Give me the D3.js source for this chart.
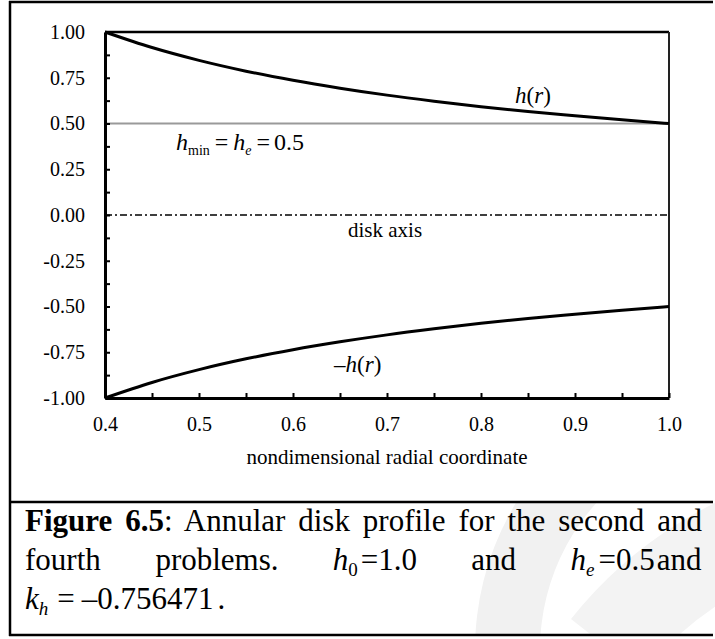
<!DOCTYPE html>
<html>
<head>
<meta charset="utf-8">
<script src="https://cdn.jsdelivr.net/npm/d3@7"></script>
<style>
  html, body { margin: 0; padding: 0; background: #fff; }
  svg { display: block; }
  text { font-family: "Liberation Serif", "Times New Roman", serif; fill: #000; }
</style>
</head>
<body>
<svg id="chart" width="715" height="639"></svg>
<script>
// ---------- data ----------
const radius   = [0.40, 0.45, 0.50, 0.55, 0.60, 0.65, 0.70, 0.75, 0.80, 0.85, 0.90, 0.95, 1.00];
const hUpper   = [1.000, 0.915, 0.845, 0.786, 0.736, 0.693, 0.655, 0.622, 0.592, 0.565, 0.542, 0.520, 0.500];
const hLower   = [-1.000, -0.915, -0.845, -0.786, -0.736, -0.693, -0.655, -0.622, -0.592, -0.565, -0.542, -0.520, -0.500];
const hMinEnds = [0.40, 1.00];
const hMinVal  = [0.5, 0.5];
const axisVal  = [0.0, 0.0];
const yTicks   = [-1.00, -0.75, -0.50, -0.25, 0.00, 0.25, 0.50, 0.75, 1.00];
const yMinor   = [-0.875, -0.625, -0.375, -0.125, 0.125, 0.375, 0.625, 0.875];
const xTicks   = [0.4, 0.5, 0.6, 0.7, 0.8, 0.9, 1.0];
const xMinor   = [0.45, 0.55, 0.65, 0.75, 0.85, 0.95];
const xLabel   = "nondimensional radial coordinate";

const svg = d3.select("#chart");
svg.append("rect").attr("width", 715).attr("height", 639).attr("fill", "#fff");

// faint watermark in the caption panel (clipped to it)
svg.append("clipPath").attr("id", "capclip")
  .append("rect").attr("x", 11).attr("y", 503).attr("width", 704).attr("height", 131);
const wm = svg.append("g").attr("clip-path", "url(#capclip)");
wm.append("path")
  .attr("d", d3.arc().innerRadius(220).outerRadius(285).startAngle(-1.7).endAngle(-0.7)())
  .attr("transform", "translate(760,650)")
  .attr("fill", "#f1f1f1");
wm.append("path")
  .attr("d", d3.arc().innerRadius(330).outerRadius(420).startAngle(-0.9).endAngle(-0.2)())
  .attr("transform", "translate(900,880)")
  .attr("fill", "#f3f3f3");

// scales
const x = d3.scaleLinear().domain([0.4, 1.0]).range([105, 669]);
const y = d3.scaleLinear().domain([-1, 1]).range([398, 32]);

// plot frame (top & right)
svg.append("line").attr("x1", 105).attr("x2", 669).attr("y1", 32).attr("y2", 32)
  .attr("stroke", "#000").attr("stroke-width", 2.5);
svg.append("line").attr("x1", 669).attr("x2", 669).attr("y1", 32).attr("y2", 398)
  .attr("stroke", "#222").attr("stroke-width", 2);

const line = d3.line().x(d => x(d[0])).y(d => y(d[1]));
// h_min line
svg.append("path")
  .attr("d", line(hMinEnds.map((r, i) => [r, hMinVal[i]])))
  .attr("stroke", "#9a9a9a").attr("stroke-width", 2).attr("fill", "none");
// disk axis
svg.append("path")
  .attr("d", line(hMinEnds.map((r, i) => [r, axisVal[i]])))
  .attr("stroke", "#000").attr("stroke-width", 1.6).attr("fill", "none")
  .attr("stroke-dasharray", "7,3,2,3");

// profiles
const curve = d3.line().x(d => x(d[0])).y(d => y(d[1])).curve(d3.curveMonotoneX);
svg.append("path")
  .attr("d", curve(radius.map((r, i) => [r, hUpper[i]])))
  .attr("stroke", "#000").attr("stroke-width", 3).attr("fill", "none");
svg.append("path")
  .attr("d", curve(radius.map((r, i) => [r, hLower[i]])))
  .attr("stroke", "#000").attr("stroke-width", 3).attr("fill", "none");

// axes
const yAxis = d3.axisLeft(y).tickValues(yTicks).tickFormat(d => d.toFixed(2))
  .tickSizeInner(-5).tickSizeOuter(0).tickPadding(20);
const gy = svg.append("g").attr("transform", "translate(105,0)").call(yAxis);
const gy2 = svg.append("g").attr("transform", "translate(105,0)")
  .call(d3.axisLeft(y).tickValues(yMinor).tickFormat("").tickSizeInner(-5).tickSizeOuter(0));
gy2.select(".domain").remove();

const xAxis = d3.axisBottom(x).tickValues(xTicks).tickFormat(d => d.toFixed(1))
  .tickSizeInner(-5).tickSizeOuter(0).tickPadding(19);
const gx = svg.append("g").attr("transform", "translate(0,398)").call(xAxis);
const gx2 = svg.append("g").attr("transform", "translate(0,398)")
  .call(d3.axisBottom(x).tickValues(xMinor).tickFormat("").tickSizeInner(-5).tickSizeOuter(0));
gx2.select(".domain").remove();

[gy, gy2, gx, gx2].forEach(g => {
  g.attr("font-family", null);
  g.selectAll(".tick line").attr("stroke", "#000").attr("stroke-width", 2);
  g.selectAll(".tick text").attr("font-size", 20).attr("fill", "#000");
});
gy.select(".domain").attr("stroke", "#000").attr("stroke-width", 3);
gx.select(".domain").attr("stroke", "#000").attr("stroke-width", 3);

// x-axis title
svg.append("text").attr("x", 387).attr("y", 464).attr("text-anchor", "middle")
  .attr("font-size", 21).text(xLabel);

// annotations
const t1 = svg.append("text").attr("x", 515).attr("y", 103).attr("font-size", 23);
t1.append("tspan").attr("font-style", "italic").text("h");
t1.append("tspan").text("(");
t1.append("tspan").attr("font-style", "italic").text("r");
t1.append("tspan").text(")");

const t2 = svg.append("text").attr("x", 334).attr("y", 372).attr("font-size", 23);
t2.append("tspan").text("\u2013");
t2.append("tspan").attr("font-style", "italic").text("h");
t2.append("tspan").text("(");
t2.append("tspan").attr("font-style", "italic").text("r");
t2.append("tspan").text(")");

const t3 = svg.append("text").attr("x", 176).attr("y", 150).attr("font-size", 24);
t3.append("tspan").attr("font-style", "italic").text("h");
t3.append("tspan").attr("font-size", 14).attr("dy", 5).text("min");
t3.append("tspan").attr("dy", -5).attr("dx", 5).text("=");
t3.append("tspan").attr("dx", 5).attr("font-style", "italic").text("h");
t3.append("tspan").attr("font-size", 14).attr("dy", 5).attr("font-style", "italic").text("e");
t3.append("tspan").attr("dy", -5).attr("dx", 5).text("=");
t3.append("tspan").attr("dx", 4).text("0.5");

svg.append("text").attr("x", 348).attr("y", 237).attr("font-size", 21).text("disk axis");

// outer frame
const fr = svg.append("g").attr("stroke", "#000").attr("stroke-width", 2.5);
fr.append("line").attr("x1", 9).attr("x2", 713).attr("y1", 2).attr("y2", 2);
fr.append("line").attr("x1", 10).attr("x2", 10).attr("y1", 1).attr("y2", 636);
fr.append("line").attr("x1", 9).attr("x2", 713).attr("y1", 502).attr("y2", 502);
fr.append("line").attr("x1", 9).attr("x2", 713).attr("y1", 635).attr("y2", 635);

// caption
const capSize = 31;
const c1 = svg.append("text").attr("x", 25).attr("y", 531).attr("font-size", capSize);
c1.append("tspan").attr("font-weight", "bold").text("Figure 6.5");
c1.append("tspan").text(": Annular disk profile for the second and");
// justify line 1 to the right margin
const natural = c1.node().getComputedTextLength();
const nSpaces = (c1.text().match(/ /g) || []).length;
c1.attr("word-spacing", Math.max(0, (702 - 25 - natural) / nSpaces));

function chunk(xp, yp, build) {
  const t = svg.append("text").attr("x", xp).attr("y", yp).attr("font-size", capSize);
  build(t);
  return t;
}
// line 2: justified pieces, evenly spread between the margins
const pieces = [
  t => t.text("fourth"),
  t => t.text("problems."),
  t => {
    t.append("tspan").attr("font-style", "italic").text("h");
    t.append("tspan").attr("font-size", 19).attr("dy", 6).text("0");
    t.append("tspan").attr("dy", -6).attr("dx", 3).text("=1.0");
  },
  t => t.text("and"),
  t => {
    t.append("tspan").attr("font-style", "italic").text("h");
    t.append("tspan").attr("font-size", 19).attr("dy", 6).attr("font-style", "italic").text("e");
    t.append("tspan").attr("dy", -6).attr("dx", 4).text("=0.5");
    t.append("tspan").attr("dx", 2).text("and");
  }
];
const made = pieces.map(b => chunk(25, 570, b));
const widths = made.map(t => t.node().getBBox().width);
const gap = (702 - 25 - d3.sum(widths)) / (made.length - 1);
let cx = 25;
made.forEach((t, i) => { t.attr("x", cx); cx += widths[i] + gap; });

chunk(25, 609, t => {
  t.append("tspan").attr("font-style", "italic").text("k");
  t.append("tspan").attr("font-size", 19).attr("dy", 6).attr("font-style", "italic").text("h");
  t.append("tspan").attr("dy", -6).attr("dx", 9).text("=");
  t.append("tspan").attr("dx", 7).text("\u20130.756471");
  t.append("tspan").attr("dx", 4).text(".");
});
</script>
</body>
</html>
